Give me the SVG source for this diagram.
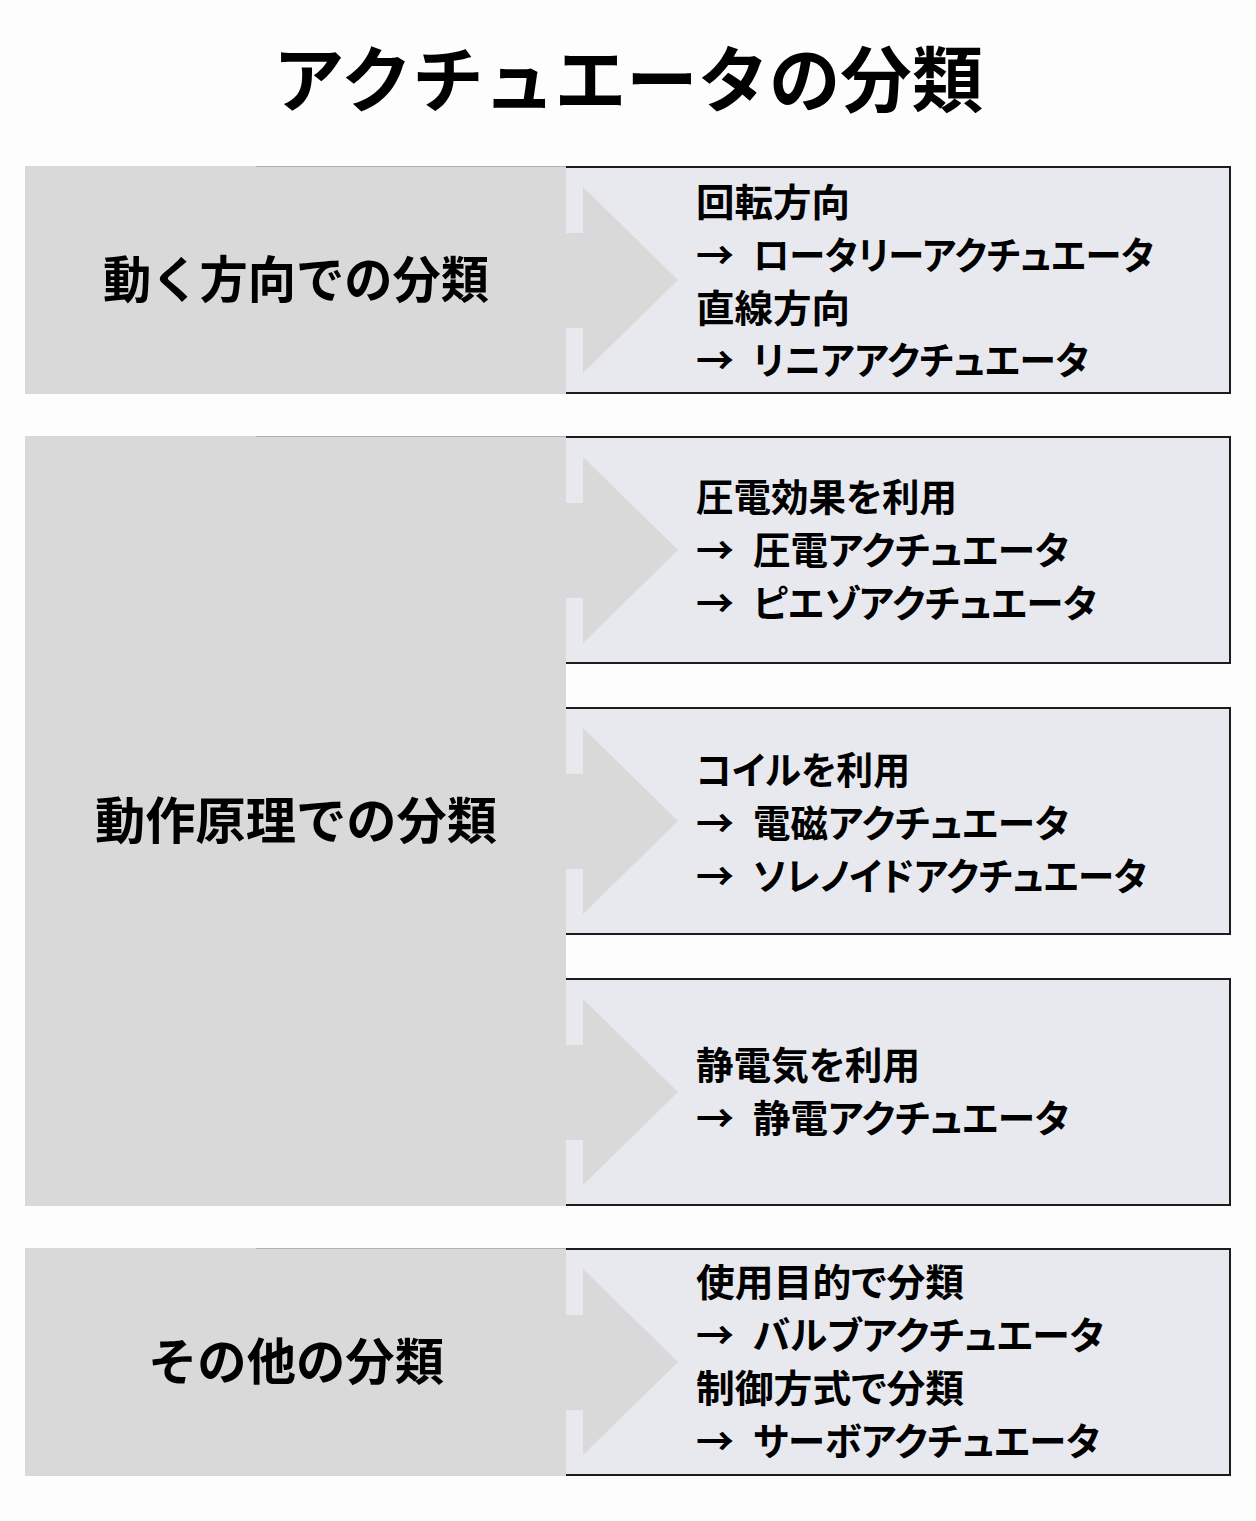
<svg xmlns="http://www.w3.org/2000/svg" width="1256" height="1521" viewBox="0 0 1256 1521">
<defs>
<style>
text{font-family:"Noto Sans CJK JP","Noto Sans CJK SC",sans-serif;font-weight:700;fill:#000}
.title{font-size:72px}
.cat{font-size:50px}
.item{font-size:38px;font-feature-settings:"palt"}
.arr{font-size:38px}
.lbox{fill:#d9d9d9}
.ledge{stroke:#b0b0b0;stroke-width:1;fill:none}
.rfill{fill:#e8e9ee}
.rborder{fill:none;stroke:#1c1c1c;stroke-width:2}
.chev{fill:#d9d9d9}
</style>
</defs>
<rect x="0" y="0" width="1256" height="1521" fill="#fdfdfd"/>
<g id="title"><text class="title" x="273" y="106" textLength="710" lengthAdjust="spacingAndGlyphs">アクチュエータの分類</text></g>

<g id="cat-direction">
<rect class="lbox" x="25" y="166" width="541" height="228"/>
<line class="ledge" x1="256" y1="166.5" x2="566" y2="166.5"/>
<text class="cat" x="103" y="298" textLength="386" lengthAdjust="spacingAndGlyphs">動く方向での分類</text>
</g>
<g id="cat-principle">
<rect class="lbox" x="25" y="436" width="541" height="770"/>
<line class="ledge" x1="256" y1="436.5" x2="566" y2="436.5"/>
<text class="cat" x="95" y="839" textLength="402" lengthAdjust="spacingAndGlyphs">動作原理での分類</text>
</g>
<g id="cat-other">
<rect class="lbox" x="25" y="1248" width="541" height="228"/>
<line class="ledge" x1="256" y1="1248.5" x2="566" y2="1248.5"/>
<text class="cat" x="148" y="1380" textLength="296" lengthAdjust="spacingAndGlyphs">その他の分類</text>
</g>

<g id="box-direction">
<rect class="rfill" x="566" y="167" width="664" height="226"/>
<path class="rborder" d="M566 167H1230V393H566"/>
</g>
<g id="box-piezo">
<rect class="rfill" x="566" y="437" width="664" height="226"/>
<path class="rborder" d="M566 437H1230V663H566"/>
</g>
<g id="box-coil">
<rect class="rfill" x="566" y="708" width="664" height="226"/>
<path class="rborder" d="M566 708H1230V934H566"/>
</g>
<g id="box-static">
<rect class="rfill" x="566" y="979" width="664" height="226"/>
<path class="rborder" d="M566 979H1230V1205H566"/>
</g>
<g id="box-other">
<rect class="rfill" x="566" y="1249" width="664" height="226"/>
<path class="rborder" d="M566 1249H1230V1475H566"/>
</g>

<g id="connectors">
<polygon class="chev" points="566,233 583,233 583,187 678,280 583,373 583,328 566,328"/>
<polygon class="chev" points="566,503 583,503 583,457 678,550 583,643 583,598 566,598"/>
<polygon class="chev" points="566,774 583,774 583,728 678,821 583,914 583,869 566,869"/>
<polygon class="chev" points="566,1045 583,1045 583,999 678,1092 583,1185 583,1140 566,1140"/>
<polygon class="chev" points="566,1315 583,1315 583,1269 678,1362 583,1455 583,1410 566,1410"/>
</g>

<g id="text-direction">
<text class="item" x="696" y="216" textLength="154" lengthAdjust="spacingAndGlyphs">回転方向</text>
<text class="arr" x="696" y="269">→</text>
<text class="item" x="753" y="269" textLength="401" lengthAdjust="spacingAndGlyphs">ロータリーアクチュエータ</text>
<text class="item" x="696" y="322" textLength="154" lengthAdjust="spacingAndGlyphs">直線方向</text>
<text class="arr" x="696" y="374">→</text>
<text class="item" x="753" y="374" textLength="336" lengthAdjust="spacingAndGlyphs">リニアアクチュエータ</text>
</g>
<g id="text-piezo">
<text class="item" x="696" y="511" textLength="261" lengthAdjust="spacingAndGlyphs">圧電効果を利用</text>
<text class="arr" x="696" y="564">→</text>
<text class="item" x="753" y="564" textLength="316" lengthAdjust="spacingAndGlyphs">圧電アクチュエータ</text>
<text class="arr" x="696" y="617">→</text>
<text class="item" x="753" y="617" textLength="344" lengthAdjust="spacingAndGlyphs">ピエゾアクチュエータ</text>
</g>
<g id="text-coil">
<text class="item" x="696" y="784" textLength="214" lengthAdjust="spacingAndGlyphs">コイルを利用</text>
<text class="arr" x="696" y="837">→</text>
<text class="item" x="753" y="837" textLength="316" lengthAdjust="spacingAndGlyphs">電磁アクチュエータ</text>
<text class="arr" x="696" y="890">→</text>
<text class="item" x="753" y="890" textLength="394" lengthAdjust="spacingAndGlyphs">ソレノイドアクチュエータ</text>
</g>
<g id="text-static">
<text class="item" x="696" y="1079" textLength="224" lengthAdjust="spacingAndGlyphs">静電気を利用</text>
<text class="arr" x="696" y="1132">→</text>
<text class="item" x="753" y="1132" textLength="316" lengthAdjust="spacingAndGlyphs">静電アクチュエータ</text>
</g>
<g id="text-other">
<text class="item" x="696" y="1296" textLength="268" lengthAdjust="spacingAndGlyphs">使用目的で分類</text>
<text class="arr" x="696" y="1349">→</text>
<text class="item" x="753" y="1349" textLength="351" lengthAdjust="spacingAndGlyphs">バルブアクチュエータ</text>
<text class="item" x="696" y="1402" textLength="268" lengthAdjust="spacingAndGlyphs">制御方式で分類</text>
<text class="arr" x="696" y="1455">→</text>
<text class="item" x="753" y="1455" textLength="347" lengthAdjust="spacingAndGlyphs">サーボアクチュエータ</text>
</g>
</svg>
